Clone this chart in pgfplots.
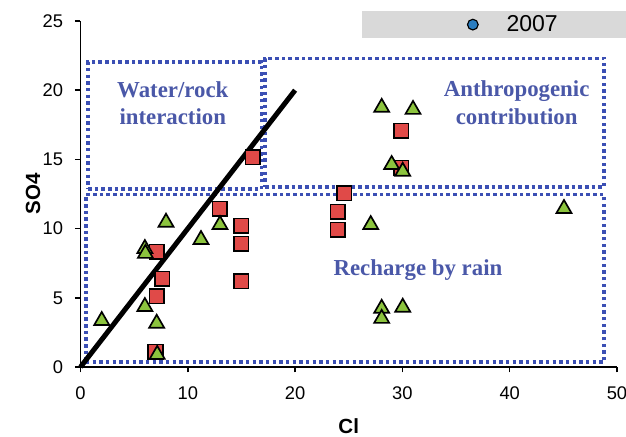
\documentclass[border=0pt]{standalone}
\usepackage{fontspec}
\setmainfont{Liberation Sans}
\newfontfamily\serifb{Liberation Serif}
\usepackage{pgfplots}
\pgfplotsset{compat=1.18}
\definecolor{boxblue}{HTML}{3B4FB4}
\definecolor{txtblue}{HTML}{4A58A8}
\definecolor{sqred}{HTML}{E04A48}
\definecolor{trigreen}{HTML}{8CC43E}
\definecolor{legblue}{HTML}{2A7DC0}
\definecolor{leggray}{HTML}{D9D9D9}
\begin{document}
\begin{tikzpicture}
\begin{axis}[name=ax, scale only axis, width=321.9pt, height=207.6pt,
  xmin=0, xmax=50, ymin=0, ymax=25,
  axis x line=bottom, axis y line=left, axis line style={-, line width=0.9pt},
  xtick={0,10,...,50}, ytick={0,5,...,25},
  tick align=outside, tick style={black, line width=0.9pt}, major tick length=3.3pt,
  ticklabel style={font=\fontsize{11}{13}\selectfont},
  xticklabel style={yshift=-4.8pt},
  yticklabel style={xshift=-3.6pt},
  /pgf/number format/assume math mode=true,
  xlabel={Cl}, ylabel={SO4},
  label style={font=\fontsize{12.3}{14}\selectfont\bfseries},
  xlabel style={at={(axis description cs:0.5,-0.172)}, anchor=center},
  ylabel style={at={(axis description cs:-0.0885,0.5)}, anchor=center},
  clip=false,
  legend style={fill=leggray, draw=none, at={(1.0168,1.0289)}, anchor=north east,
    inner xsep=0pt, inner ysep=2.4pt, column sep=0pt,
    nodes={inner sep=0pt, font=\fontsize{13.8}{16}\selectfont}},
]
\addlegendimage{legend image code/.code={\path[draw=none] (-66.6pt,0pt) -- (3pt,0pt);
  \draw[mark=*, mark size=3.2pt, mark options={fill=legblue, draw=black, line width=0.7pt}] plot coordinates {(0pt,0pt)};}}
\addlegendentry{\hspace*{17pt}2007\hspace*{40.8pt}}

% dotted region boxes
\addplot[boxblue, line width=2.1pt, dash pattern=on 2.1pt off 1.9pt, forget plot]
  coordinates {(0.7,12.85) (16.85,12.85) (16.85,22.05) (0.7,22.05) (0.7,12.85)};
\addplot[boxblue, line width=2.1pt, dash pattern=on 2.1pt off 1.9pt, forget plot]
  coordinates {(17.2,13.0) (48.8,13.0) (48.8,22.3) (17.2,22.3) (17.2,13.0)};
\addplot[boxblue, line width=2.1pt, dash pattern=on 2.1pt off 1.9pt, forget plot]
  coordinates {(0.5,0.35) (48.8,0.35) (48.8,12.45) (0.5,12.45) (0.5,0.35)};

% 1:1 line
\addplot[black, line width=3pt, forget plot] coordinates {(0,0) (20,20)};

% squares
\addplot[only marks, mark=square*, mark size=4.4pt, mark options={fill=sqred, draw=black, line width=1pt}, forget plot]
  coordinates {
  (16.05,15.15) (13.0,11.42) (14.96,10.19) (14.96,8.89) (14.96,6.21)
  (7.1,8.31) (7.6,6.36) (7.1,5.11) (7.0,1.1)
  (24.56,12.57) (23.97,11.22) (23.97,9.9) (29.87,17.07) (29.87,14.38)
  };

% triangles
\addplot[only marks, mark=triangle*, mark size=5.2pt, mark options={fill=trigreen, draw=black, line width=1pt}, forget plot]
  coordinates {
  (1.98,3.35) (6.0,8.55) (6.05,8.2) (7.97,10.45) (11.23,9.2) (13.0,10.28)
  (6.0,4.36) (7.1,3.15) (7.15,0.9)
  (28.07,18.75) (30.99,18.6) (29.0,14.62) (30.03,14.13) (27.05,10.28)
  (45.06,11.44) (28.07,4.23) (28.07,3.5) (30.03,4.31)
  };

\node[font=\serifb\bfseries\fontsize{13.7}{16.4}\selectfont, text=txtblue, align=center]
  at (axis cs:8.6,19.04) {Water/rock\\interaction};
\node[font=\serifb\bfseries\fontsize{13.7}{16.4}\selectfont, text=txtblue, align=center]
  at (axis cs:40.65,19.1) {Anthropogenic\\contribution};
\node[font=\serifb\bfseries\fontsize{13.7}{16.4}\selectfont, text=txtblue, align=center]
  at (axis cs:31.45,7.0) {Recharge by rain};
\end{axis}
\pgfresetboundingbox
\path ([xshift=-48.3pt,yshift=-42pt]ax.south west) rectangle ([xshift=5.4pt,yshift=12.6pt]ax.north east);
\end{tikzpicture}
\end{document}
